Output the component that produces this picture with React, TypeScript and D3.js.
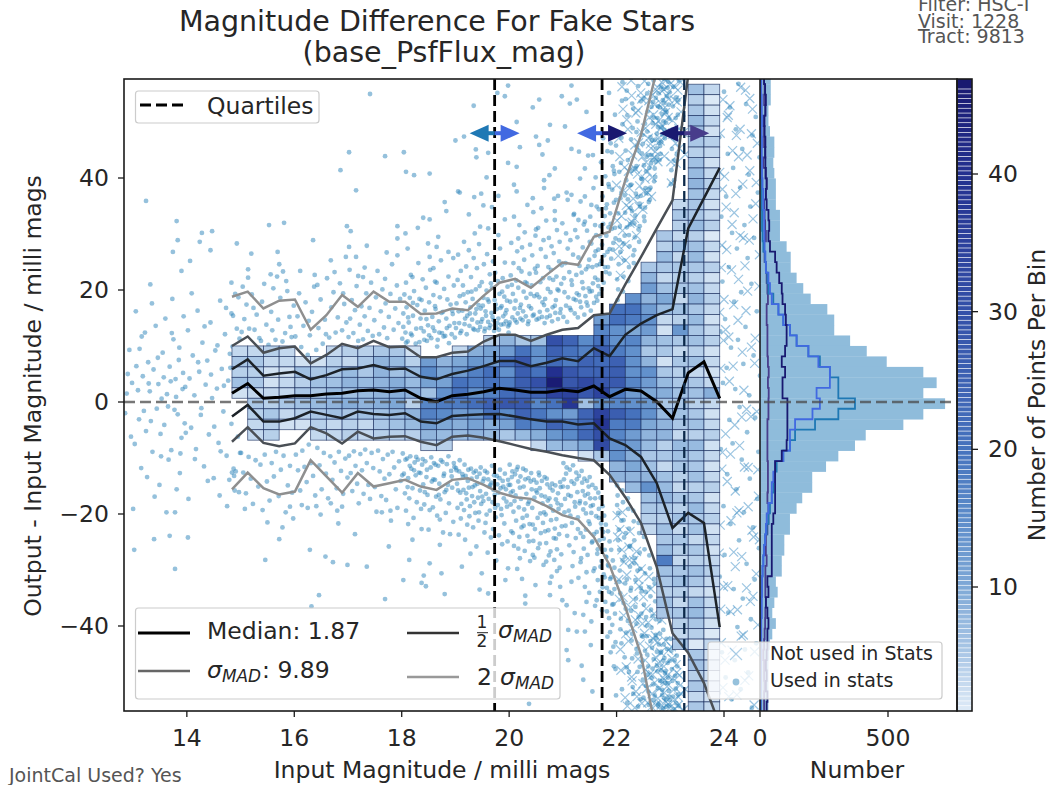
import React from "react";
import * as d3 from "d3";

// ---------- axis tick labels ----------
const xTicks = [14, 16, 18, 20, 22, 24];
const yTicks = [40, 20, 0, -20, -40];
const histTicks = [0, 500];
const cbarTicks = [10, 20, 30, 40];

// ---------- statistics lines (values at magnitude bin edges) ----------
const binStart = 14.84;
const binWidth = 0.2929;
const rowTopValue = 58.62;
const rowStep = 1.8696;
const quartiles = [19.73, 21.73, 23.26];

const lineMedian = [1.55,3.3,0.66,0.84,1.13,1.13,1.43,1.55,2.0,2.14,1.84,2.14,0.66,0.05,1.13,1.4,1.84,2.45,2.14,1.73,1.73,2.14,1.84,2.86,0.95,2.27,1.96,0.05,-2.9,5.2,7.2,0.66];
const lineHalfUp = [5.84,7.62,4.7,5.1,5.4,4.05,4.8,5.84,6.0,6.6,5.84,6.0,4.5,4.05,5.0,5.6,6.4,7.3,7.3,6.4,7,7.8,7.3,9.6,8.2,12,14,15.5,16.6,31,36.4,41.8];
const lineHalfDown = [-2.6,-0.54,-3.5,-3.5,-2.9,-1.7,-2.3,-2.9,-1.7,-2.14,-2.3,-2,-3.5,-3.8,-2.5,-2.3,-2.2,-2.14,-2.6,-3.1,-3.5,-3.5,-4,-3.8,-6.5,-7.7,-9.8,-14.5,-22.5,-19.8,-21.6,-40.2];
const lineSigmaUp = [10,11.7,8.8,9.6,9.9,6.9,8.4,10.4,9.6,10.9,9.8,9.9,8,8,8.8,9,10.8,12,12,10.9,12,12.9,13.2,15.5,15.8,21,25.9,31,36,58.4,80,85];
const lineSigmaDown = [-7.1,-4.5,-7.3,-7.9,-7.4,-4.5,-5.6,-7.4,-5.3,-6.5,-6.2,-6.1,-7.1,-7.7,-6.2,-6,-6.4,-7,-7.7,-8.4,-8.9,-9.5,-10,-10.4,-13,-17,-21.6,-29.5,-41.3,-44.8,-50.2,-57.7];
const lineTwoUp = [18.8,19.7,16.7,18.1,18.3,12.9,15.5,19.1,17,19.7,17.9,17.9,15.7,15.8,16.7,16.4,19,21.3,22,20.4,22.7,24.9,24.5,29.5,30.4,39.6,47.7,59.3];
const lineTwoDown = [-15.6,-12.6,-15.4,-16.5,-16,-10.4,-13.3,-16.2,-12.7,-15.1,-14.5,-13.9,-15.1,-15.7,-13.9,-13.6,-14.8,-16.2,-17,-17.3,-18.6,-20.2,-21,-24.1,-29.1,-36.6,-45.2,-59.5];

// ---------- 2D histogram: first row of each column, counts from that row down ----------
const heatStartRow = [26,26,26,26,27,27,26,26,26,26,26,26,27,27,26,26,25,25,25,25,25,25,25,23,22,21,18,15,12,1,1];
const heatCounts = [
  [3,5,4,6,2],
  [3,5,4,5,3,5,4,3,3],
  [4,3,2,2,3,4,5,4,4],
  [3,3,2,3,3,5,3,2],
  [2,6,4,5,6,4,2],
  [2,5,6,5,7,5,4,3],
  [3,4,5,6,7,8,6,3,3],
  [4,3,7,8,6,9,5,4,4],
  [4,5,5,7,7,8,6,3,3],
  [5,8,8,8,8,9,6,5,4],
  [5,7,6,9,9,10,7,6,4],
  [2,4,7,7,8,4,8,7,4],
  [12,15,11,6,16,17,12,8,3],
  [8,10,11,14,18,15,10,7,4],
  [3,10,12,20,20,18,12,9,7],
  [9,13,17,18,14,21,13,11,8],
  [4,11,12,21,20,17,25,20,9,7],
  [8,12,22,14,18,22,28,15,11,5],
  [5,20,28,26,26,23,27,24,18,7],
  [6,14,14,20,30,24,16,19,16,9,3],
  [30,25,22,40,46,34,20,14,24,13,7],
  [24,20,18,28,28,34,38,12,18,15,8],
  [15,17,24,24,32,28,6,24,22,23,10,2],
  [12,16,20,26,22,24,28,34,14,34,38,30,32,5],
  [20,21,14,14,18,25,26,27,18,16,26,18,16,14,14,8,8],
  [14,20,18,10,16,14,14,14,16,12,14,20,18,12,12,9,10,8,7],
  [5,8,12,8,12,14,12,8,5,8,14,12,10,13,14,10,8,7,5,6,8,14,6,5,4,3],
  [5,4,7,5,3,6,10,7,3,2,6,5,2,5,7,9,5,7,8,8,4,5,3,6,7,8,5,4,6,5,7,18,6,5,4,6,5],
  [3,5,4,3,6,3,5,4,5,3,6,4,13,5,3,5,4,5,6,5,6,5,3,7,6,5,4,3,5,4,6,3,5,4,3,5,6,4,3,5,4,3,5],
  [6,4,5,7,6,5,4,6,7,8,6,5,5,7,4,6,7,5,4,6,8,5,7,5,6,4,6,3,5,6,4,5,6,4,7,5,5,6,4,5,7,5,6,3,5,4,6,5,3,6,7,5,4,1,5,6,4,5,3,5],
  [3,1,2,3,2,4,3,2,3,4,3,2,3,4,1,3,2,4,2,3,4,3,2,3,4,2,3,2,3,9,3,2,3,4,2,3,2,3,4,2,3,4,2,3,2,3,4,3,2,3,3,2,1,3,2,3,2,3,2,3],
];

// ---------- side histograms, counts per row ----------
const histAll = [42,42,42,33,33,39,56,56,52,56,62,62,62,78,78,78,104,120,120,143,169,198,263,290,290,352,417,495,638,690,638,723,638,560,413,371,306,258,204,204,165,143,117,117,95,95,85,85,62,69,56,48,62,48,39,36,33,33,33,33,33];
const histQ1 = [3,3,4,4,4,3,4,3,4,4,7,7,7,8,8,10,13,20,23,29,33,52,72,91,117,143,189,234,273,306,306,371,306,215,137,117,91,65,59,52,46,39,33,26,20,16,13,10,8,7,5,5,4,4,3,3,3,3,3,3,3];
const histQ2 = [5,5,7,7,8,7,8,7,8,8,10,13,13,16,16,17,18,21,23,33,39,46,72,91,117,143,189,228,273,273,221,234,205,137,117,117,91,59,52,46,46,33,26,23,20,16,13,10,8,8,7,7,5,5,5,4,4,4,4,3,3];
const histQ3 = [16,20,23,21,16,18,21,20,21,23,26,23,26,33,36,33,39,59,65,75,85,88,98,101,104,104,98,85,98,88,88,107,107,107,107,104,85,59,59,59,59,59,52,46,46,46,46,46,29,33,23,29,33,29,29,26,23,26,23,29,26];
const histQ4 = [16,18,16,21,18,16,16,21,13,21,26,23,16,18,20,23,16,18,23,26,29,31,26,26,29,29,29,31,34,31,34,33,33,29,29,29,29,31,31,31,29,33,33,29,23,23,26,21,21,21,23,21,20,18,16,13,16,16,18,16,16];

// ---------- individual stars: pairs of (hundredths of a magnitude, offset) per whole magnitude ----------
const usedPts12 = [90,5,85,-2,88,1.5,93,9.3,96,-6.2,98,3.4];
const usedPts13 = [24,35.9,81,32.3,83,28.9,74,26.8,90,23.4,32,21,0,-19.1,62,-19.7,78,-19.7,39,-24.5,68,-23.9,2,-26.4,78,-29.8,5,16.2,12,9.5,18,4.6,22,12.4,28,7.1,33,-3.4,38,5.8,42,13.6,47,3.2,51,-5.7,55,8.8,60,14.9,63,1.4,68,6.3,71,-8.6,75,11.2,79,4.1,83,-2.2,86,9.7,90,-6.4,94,15.3,97,2.7,3,-7.5,9,2.1,15,-11.8,20,-1.6,26,-13.4,31,1.9,36,-8.9,44,-1.2,49,-14.8,53,0.6,58,-4.1,66,-10.3,70,3.7,73,18.4,77,-1.4,81,-15.6,85,7.5,88,-9.2,92,2.3,96,-3.8,6,6.4,11,-3.1,16,11.7,24,-5.2,29,3.3,35,17.6,40,-16.9,46,7.9,52,-9.7,57,4.4,65,-0.8,72,12.3,80,0.9,87,-12.7,93,5.2,98,-5.5];
const usedPts14 = [6,25.2,28,30.2,47,30.5,24,28.6,44,27.1,83,21.3,93,28.3,2,-24.2,2,12.8,5,4.2,8,-4.6,11,8.3,14,1.2,17,-8.4,20,16.3,23,5.4,26,-2.3,29,10.6,32,-11.5,35,3.1,38,7.4,41,-5.8,44,14.2,47,0.7,50,-13.6,53,9.2,56,2.4,59,-7.3,62,18.1,65,5.9,68,-1.7,71,12.1,74,-9.6,77,3.8,80,8.6,83,-3.9,86,15.4,89,-15.8,92,6.7,95,-6.2,98,11.3,3,-17.3,9,19.4,15,-10.2,21,7.1,27,-1.1,33,13.5,39,-14.1,45,4.9,51,-4.4,57,10.1,63,-8.8,69,2.9,75,-18.6,81,6.1,87,-11.9,93,13.1,99,-9.1,61,-16.7,73,16.8,85,9.9,91,-12.4,97,-16.1,96,18.7,88,-13.2,79,-13.9,83,15.8,84,-12.6,90,19.3];
const usedPts15 = [8,-19.1,14,23.7,14,22.2,20,26.5,53,31.6,81,32,69,26.8,72,24.6,79,23.3,56,22.8,50,-21.5,78,-22.4,72,-24.5,46,-28.2,92,-18.7,98,-20.8,2,12.5,7,14.8,11,17.4,16,13.1,21,19.2,26,12.9,30,15.6,35,11.4,40,17.9,44,21.1,48,13.8,52,10.2,57,16.1,61,20.3,65,11.1,70,14.7,74,18.6,78,10.8,83,12.3,87,19.8,91,15.2,95,11.6,99,17.2,4,20.6,24,16.8,38,10.9,59,12.8,68,22.4,85,21.6,93,13.4,1,-9.1,5,-12.6,10,-16.3,15,-9.8,19,-13.7,23,-18.2,28,-10.4,33,-15.1,37,-11.2,41,-19.3,45,-9.4,49,-14.2,54,-17.6,58,-10.9,62,-13.3,66,-8.9,71,-16.8,75,-12.1,80,-9.6,84,-19.7,88,-14.9,92,-11.4,96,-16.2];
const usedPts16 = [35,28.9,68,25.3,38,22.7,86,41.4,98,31.4,96,25.9,29,-26.4,58,-27.6,72,-28.6,99,-29.1,46,-34.5,32,-36.5,14,-18.4,41,-18.6,68,-18.1,80,-19.4,82,-21.7,2,11.7,6,15.3,9,19.4,13,9.8,17,13.6,21,17.8,25,8.4,29,11.9,33,16.1,37,20.6,41,9.3,45,13.2,49,18.3,53,10.4,57,14.7,61,22.1,65,11.5,69,16.9,73,19.6,77,12.4,81,15.1,85,21.2,89,12.8,93,17.5,97,14.2,11,23.4,27,14.5,43,20.9,59,12.1,75,23.2,91,19.4,3,-9.4,7,-12.2,11,-15.8,15,-8.7,19,-11.6,23,-14.3,27,-7.6,31,-10.9,35,-13.2,39,-16.7,43,-8.2,47,-11.3,51,-15.6,55,-9.1,59,-12.8,63,-17.2,67,-9.7,71,-13.9,75,-10.8,79,-15.4,83,-8.9,87,-12.3,91,-16.4,95,-10.1,99,-13.5,25,-18.9,49,-20.1,89,-18.7];
const usedPts17 = [2,44.6,15,37.8,41,55,69,43.9,92,31.4,5,30.5,92,29.2,2,27.7,35,27.9,72,26.7,92,26.2,15,25.9,31,24,3,23.6,19,22.5,28,22.3,69,22,13,-23.6,35,-29.4,69,-35.2,76,-25.8,63,-19.7,79,-19.4,1,11.6,4,14.9,7,18.2,10,12.3,13,16.4,16,20.7,19,10.9,22,13.8,25,17.1,28,11.2,31,15.3,34,19.4,37,12.7,40,16.8,43,21.3,46,11.8,49,14.6,52,18.7,55,23.4,58,12.1,61,16.2,64,20.1,67,13.3,70,17.6,73,11.4,76,15.2,79,19.3,82,24.6,85,12.9,88,16.7,91,20.8,94,14.1,97,18.4,2,-9.6,5,-12.7,8,-15.9,11,-8.8,14,-11.4,17,-14.6,20,-18.1,23,-9.3,26,-12.2,29,-16.4,32,-8.5,35,-10.9,38,-14.8,41,-17.3,44,-9.1,47,-11.8,50,-15.2,53,-19.6,56,-8.7,59,-12.4,62,-16.8,65,-10.2,68,-13.7,71,-17.5,74,-9.4,77,-12.9,80,-21.2,83,-8.9,86,-11.7,89,-15.6,92,-18.9,95,-10.6,98,-14.1];
const usedPts18 = [4,44.6,8,41.1,23,40.5,52,40.8,80,35.7,83,34.1,40,32.9,52,32.6,7,30.1,30,31.1,68,29.5,11,27.4,49,28.3,65,27.7,52,25.9,59,23.9,62,21.5,96,25.7,87,26.8,20,22.3,8,21.3,14,-28.2,20,-24.6,12,-21.8,37,-22.7,52,-28.8,71,-25.5,74,-30.6,3,-31.8,41,-31,37,-32.3,45,-32.9,80,-34.3,77,-23.3,90,-23.6,71,-21,52,-19.3,1,11.3,3,15.8,5,19.2,7,12.4,9,16.9,11,10.8,13,14.2,15,18.6,17,22.7,19,11.9,21,15.4,23,19.8,25,9.6,27,13.1,29,17.3,31,24.8,33,10.7,35,14.9,37,18.2,39,21.9,41,12.6,43,16.3,45,20.4,47,10.9,49,13.7,51,17.8,53,23.6,55,11.4,57,15.2,59,19.1,61,12.7,63,16.6,65,21.3,67,11.1,69,14.4,71,18.7,73,25.3,75,12.3,77,16.1,79,20.2,81,11.8,83,14.9,85,18.3,87,22.4,89,13.6,91,17.4,93,12.1,95,15.7,97,20.8,99,11.5,2,-9.2,4,-12.8,6,-16.3,8,-19.4,10,-10.1,12,-13.6,14,-17.2,16,-9.7,18,-11.9,20,-15.4,22,-20.7,24,-10.8,26,-13.1,28,-17.9,30,-10.3,32,-12.6,34,-15.8,36,-19.1,38,-11.2,40,-14.7,42,-18.3,44,-10.6,46,-13.4,48,-16.6,50,-22.8,54,-11.7,56,-14.2,58,-18.8,60,-10.9,62,-13.9,64,-16.9,66,-20.3,68,-11.4,70,-14.6,72,-17.4,76,-10.7,78,-13.2,80,-16.1,82,-19.8,84,-11.1,86,-14.8,88,-18.1,92,-12.3,94,-15.3,96,-21.4,98,-11.6,3,13.4,8,10.6,12,15.1,17,12.2,21,17.7,26,10.4,33,18.4,36,13.2,42,11.1,46,14.8,51,11.9,58,13.3,62,17.1,66,9.9,70,12.4,74,15.9,78,11.7,84,13.2,88,10.5,94,16.3,98,14.1,1,-13.1,7,-10.3,11,-15.2,15,-11.4,23,-12.2,27,-9.8,35,-12.7,39,-10.2,43,-16.1,47,-12.1,55,-9.9,59,-13.8,63,-11.2,69,-16.6,73,-10.4,79,-12.8,83,-15.7,87,-9.7,93,-13.3,97,-10.9];
const usedPts19 = [0,46.7,5,37.6,16,47.4,34,52.9,38,45.1,39,43.7,61,44.5,58,40.1,8,37.4,35,36.6,48,37.2,80,36.8,52,35.1,68,34.8,25,33.5,92,32.6,46,31.3,61,31,36,30.1,80,29.8,78,55.2,92,54.6,98,56.5,98,42.7,45,-33.5,61,-34.2,98,-29.7,1,13.2,2,17.6,4,21.8,5,26.3,7,14.1,8,18.9,10,23.4,11,12.7,13,16.3,14,20.8,16,28.6,17,13.9,19,17.8,20,24.2,22,15.4,23,19.6,25,27.1,26,13.6,28,16.9,29,22.3,31,14.7,32,18.4,34,25.7,35,12.9,37,15.8,38,20.1,40,23.9,41,14.2,43,17.3,44,28.2,46,13.4,47,16.7,49,21.4,50,14.8,52,18.6,53,24.6,55,13.1,56,16.2,58,19.9,59,26.4,61,14.3,62,17.9,64,22.8,65,13.7,67,15.9,68,20.4,70,25.1,71,14.6,73,18.2,74,23.1,76,13.3,77,16.6,79,21.6,80,14.9,82,19.3,83,27.4,85,13.8,86,17.1,88,22.1,89,15.3,91,18.8,92,24.9,94,14.4,95,16.4,97,20.6,98,13.5,1,-11.8,3,-14.6,4,-18.9,6,-23.7,7,-12.4,9,-16.2,10,-20.8,12,-29.4,13,-12.9,15,-15.7,16,-19.3,18,-24.6,19,-13.2,21,-17.4,22,-21.9,24,-12.1,25,-15.3,27,-18.6,28,-27.1,30,-13.7,31,-16.8,33,-22.4,34,-12.6,36,-14.9,37,-19.8,39,-25.8,40,-13.4,42,-17.1,43,-21.2,45,-12.8,46,-15.9,48,-18.2,49,-30.6,51,-14.2,52,-17.7,54,-23.3,55,-12.3,57,-16.4,58,-20.1,60,-26.9,61,-13.8,63,-15.1,64,-19.4,66,-24.2,67,-14.4,69,-17.9,70,-22.7,72,-13.1,73,-16.6,75,-20.6,76,-28.3,78,-14.7,79,-18.4,81,-23.8,82,-13.6,84,-15.4,85,-19.1,87,-25.4,88,-14.1,90,-17.2,91,-21.7,93,-31.8,94,-15.6,96,-18.7,97,-24.9,99,-14.8,6,16.2,9,12.3,15,19.2,18,14.9,21,12.1,27,15.8,30,19.7,33,13.1,39,16.6,42,12.8,45,20.7,48,14.3,51,17.2,54,12.6,57,15.4,60,18.3,63,13.2,66,21.2,69,15.2,72,12.7,75,17.4,78,14.1,81,12.9,84,16.8,87,19.7,90,13.9,93,15.8,96,18.1,99,12.4,2,-12.2,5,-15.8,8,-10.4,11,-18.2,14,-13.4,17,-11.2,20,-16.3,23,-14.1,26,-20.4,29,-11.9,32,-15.2,35,-17.9,38,-12.3,41,-14.6,44,-19.7,47,-11.7,50,-16.9,53,-13.7,56,-21.6,59,-12.6,62,-17.3,65,-14.8,68,-11.4,71,-15.7,74,-18.9,77,-13.2,80,-16.2,83,-12.1,86,-20.2,89,-15.1,92,-12.8,95,-17.8,98,-13.9];
const usedPts20 = [56,54,44,52.6,98,54.6,14,50,76,49.5,50,47.4,72,46.7,56,45.9,20,45.5,62,44.2,14,42,85,41.7,75,40.5,65,39.6,9,38.8,65,38.2,14,37.6,44,36.4,91,36.8,85,34.1,85,32.5,50,30.8,17,29.2,20,-27.9,44,-27.3,69,-28.5,89,-30.2,30,-34.6,30,-36,76,-32.3,76,-34.5,95,-33,37,-53.9,1,14.2,2,17.9,3,22.6,4,28.4,6,15.1,7,19.3,8,24.8,9,33.1,11,14.6,12,18.1,13,21.7,15,26.9,16,15.8,17,20.4,19,31.6,21,14.9,22,17.4,23,23.3,24,27.6,26,16.2,27,19.7,28,25.4,29,30.3,31,15.3,32,18.6,33,21.2,34,35.2,36,14.4,37,17.1,38,22.9,39,28.1,41,16.7,42,20.8,43,26.2,45,33.9,46,15.6,47,18.9,48,23.8,49,29.7,51,14.7,52,19.2,53,24.3,54,31.1,57,16.1,58,21.4,59,27.3,60,34.6,61,15.2,62,17.8,63,22.1,64,28.9,66,14.1,67,18.4,68,25.9,69,32.4,71,16.4,72,20.2,73,24.1,74,29.3,76,15.4,77,19.6,78,23.6,79,27.8,81,16.9,82,21.8,83,26.6,84,36.3,86,15.9,87,18.2,88,22.4,89,30.7,91,14.8,92,19.9,93,25.1,94,28.6,96,16.6,97,21.1,98,24.4,99,31.9,1,-11.2,2,-14.8,3,-18.3,4,-23.1,6,-12.4,7,-15.9,8,-19.6,9,-25.7,11,-12.9,12,-16.7,13,-21.2,15,-29.8,16,-11.6,17,-14.2,18,-18.8,19,-24.1,21,-13.3,22,-17.3,23,-22.4,24,-31.6,26,-11.9,27,-15.1,28,-19.2,29,-26.6,31,-12.2,32,-16.4,33,-20.3,34,-23.9,36,-13.6,37,-17.8,38,-21.8,39,-28.4,41,-12.7,42,-15.6,43,-18.9,45,-24.8,46,-13.9,47,-17.1,48,-22.7,49,-32.7,51,-14.4,52,-16.2,53,-20.7,54,-26.1,56,-13.1,57,-15.4,58,-19.9,59,-23.4,61,-14.1,62,-18.1,63,-21.6,64,-29.1,66,-13.4,67,-16.9,68,-20.1,69,-25.2,71,-14.7,72,-17.6,73,-22.9,74,-27.4,76,-15.3,77,-18.6,78,-21.1,79,-31.2,81,-15.8,82,-19.4,83,-24.3,84,-28.2,86,-14.9,87,-17.4,88,-20.9,89,-26.3,91,-16.3,92,-19.1,93,-23.6,94,-29.6,96,-15.2,97,-18.4,98,-22.2,99,-35.4,0,13.8,5,20.9,10,16.7,14,14.2,18,23.9,20,16.8,25,14.6,30,21.4,35,13.9,40,19.3,44,15.4,50,23.1,55,14.9,56,18.7,65,17.3,70,15.1,75,22.1,80,14.4,85,17.2,90,20.1,95,15.9,3,-16.2,5,-13.4,10,-17.7,14,-12.1,20,-15.3,25,-20.7,30,-13.8,35,-18.2,40,-14.2,44,-21.9,50,-15.8,55,-12.6,60,-16.7,65,-19.7,70,-13.7,75,-17.2,80,-14.6,85,-22.6,90,-18.1,95,-14.3,7,-23.4,17,-26.2,27,-22.1,37,-24.9,47,-27.8,57,-25.3,67,-23.1,77,-26.7,87,-24.4,97,-27.2];
const usedPts21 = [16,56.5,13,53.3,26,54,44,51.8,86,55.2,4,49.2,16,45.2,30,44.7,47,44,56,44.1,41,41.7,32,39.9,61,40.1,7,37.4,16,37,41,36.7,9,36.1,53,35.2,63,34.9,20,33.4,29,32.5,60,31.6,50,28.6,16,-32.1,41,-33,7,-44.3,10,-46.1,35,-47.1,38,-49.6,55,-51.7,52,-43.4,10,-40.7,26,-41,41,-41,22,-37.7,38,-38,53,-39.2,7,-36.3,63,-35.4,44,-35.7,1,15.2,3,19.6,5,24.8,6,30.1,8,14.3,10,18.7,12,23.2,14,28.9,15,16.4,17,20.9,19,26.3,21,33.6,22,15.8,24,18.2,25,22.7,27,29.4,28,15.1,30,19.1,31,24.3,33,35.8,34,16.9,36,21.4,37,27.6,39,31.7,40,15.6,42,18.9,43,23.7,45,30.6,46,17.2,48,20.3,49,25.4,51,33.1,52,16.3,54,19.8,55,24.1,57,38.2,58,17.7,60,22.2,61,26.9,62,29.8,64,18.1,65,21.8,66,27.2,67,34.4,68,19.3,69,24.6,70,31.4,71,42.8,72,20.1,73,28.1,74,36.7,75,47.1,76,21.3,77,26.2,78,33.2,79,40.3,80,23.2,81,29.7,82,35.3,83,44.8,84,24.1,85,31.2,86,38.4,87,27.3,88,33.7,89,46.2,90,25.6,91,30.9,92,37.9,93,42.1,94,28.4,95,35.6,96,40.7,97,51.3,98,29.2,99,36.1,1,-10.9,2,-13.8,4,-17.3,5,-22.1,7,-11.7,9,-15.2,11,-19.4,12,-25.6,13,-12.1,15,-16.8,17,-21.6,18,-29.3,19,-11.3,21,-14.6,23,-18.7,24,-24.3,25,-12.6,27,-16.1,28,-20.6,29,-31.4,30,-13.2,32,-17.7,33,-23.4,34,-27.9,35,-12.3,37,-15.9,38,-19.2,39,-26.2,40,-13.7,42,-18.1,43,-22.8,44,-30.4,45,-14.1,47,-16.4,48,-21.3,49,-34.1,50,-13.4,51,-17.2,53,-19.8,54,-25.1,55,-14.8,56,-18.4,58,-23.6,59,-29.7,60,-36.4,61,-15.4,62,-20.4,64,-27.1,65,-31.8,66,-16.2,67,-19.1,68,-24.7,69,-33.9,70,-17.1,71,-21.7,72,-28.4,73,-37.2,74,-18.6,75,-23.2,76,-30.8,77,-20.3,78,-26.4,79,-35.7,80,-21.9,81,-27.7,82,-33.2,83,-41.9,84,-23.1,85,-29.3,86,-38.6,87,-24.9,88,-31.6,89,-44.7,90,-26.4,91,-34.2,92,-39.8,93,-28.3,94,-36.1,95,-47.2,96,-29.6,97,-37.8,98,-42.9,99,-52.4,2,22.1,6,17.2,9,27.4,13,16.8,16,21.7,20,18.4,23,30.7,26,19.4,29,25.8,32,17.9,35,23.1,38,20.3,41,32.2,44,17.8,47,24.2,50,19.7,53,28.3,56,21.2,59,26.1,62,18.8,63,24.4,66,20.7,69,29.6,72,25.2,75,31.8,78,24.1,80,34.6,83,26.8,85,38.9,87,22.9,89,31.8,91,44.6,93,27.2,95,41.3,97,31.1,99,45.8,0,-15.1,3,-19.7,6,-12.8,8,-23.9,10,-16.6,14,-20.3,16,-14.2,20,-26.8,22,-17.9,26,-13.8,28,-22.7,31,-18.1,33,-28.6,36,-14.4,38,-24.1,41,-16.7,43,-19.9,46,-27.3,48,-15.1,50,-21.8,52,-18.6,55,-24.9,57,-30.2,60,-17.2,63,-23.2,65,-26.3,67,-20.7,70,-29.4,72,-22.6,74,-33.1,76,-24.4,78,-31.3,80,-27.6,82,-37.4,84,-29.1,86,-33.9,88,-41.1,90,-31.3,92,-36.2,94,-43.7,96,-33.4,98,-47.7];
const usedPts22 = [2,18.2,4,24.6,6,31.3,8,42.7,10,53.8,3,20.1,5,28.9,7,36.4,9,47.2,11,57.1,12,19.7,14,25.3,16,33.8,18,39.6,20,51.2,13,22.4,15,29.7,17,44.9,19,55.6,21,36.2,22,21.6,24,27.8,26,34.6,28,41.3,30,48.9,23,24.1,25,31.7,27,38.8,29,53.3,31,26.2,32,24.8,34,29.4,36,37.2,38,45.6,40,56.4,33,27.1,35,33.3,37,42.1,39,50.1,41,30.8,42,28.6,44,34.9,46,39.9,48,47.7,50,54.2,43,31.4,45,36.8,47,44.4,49,58.1,51,33.1,52,32.3,54,38.2,56,43.8,58,51.9,60,35.7,53,34.7,55,41.2,57,48.3,59,56.8,61,37.9,62,36.1,64,42.6,66,46.7,68,53.6,70,39.4,63,38.3,65,44.1,67,49.8,69,57.4,71,41.7,72,40.2,74,45.3,76,50.7,78,55.1,80,43.2,73,42.9,75,47.9,77,52.8,79,58.3,81,45.7,82,44.3,84,49.1,86,53.9,88,57.7,90,47.1,83,46.4,85,51.4,87,55.9,89,48.6,91,52.1,92,49.9,94,54.6,96,57.2,98,50.6,93,51.8,95,56.1,97,53.1,99,55.3,1,-14.9,3,-19.8,5,-26.4,7,-34.2,9,-43.1,2,-16.7,4,-22.8,6,-30.1,8,-38.7,10,-51.3,11,-15.8,13,-21.1,15,-27.6,17,-36.9,19,-47.4,12,-17.9,14,-24.2,16,-32.4,18,-41.2,20,-53.7,21,-17.2,23,-22.6,25,-29.4,27,-37.3,29,-45.8,22,-19.1,24,-25.8,26,-33.7,28,-42.6,30,-50.9,31,-19.4,33,-24.7,35,-31.8,37,-39.6,39,-48.2,32,-21.3,34,-27.9,36,-35.1,38,-44.9,40,-54.4,41,-21.6,43,-26.9,45,-33.2,47,-41.7,49,-49.6,42,-23.4,44,-29.8,46,-37.8,48,-46.3,50,-52.8,51,-24.1,53,-30.6,55,-38.4,57,-45.1,59,-51.7,52,-26.3,54,-33.9,56,-41.8,58,-48.7,60,-54.1,61,-27.4,63,-34.7,65,-40.3,67,-47.6,69,-53.2,62,-29.7,64,-37.1,66,-43.9,68,-50.4,70,-31.6,71,-32.4,73,-38.8,75,-44.6,77,-51.1,72,-35.6,74,-42.2,76,-48.1,78,-53.9,79,-36.2,81,-41.4,83,-47.9,85,-52.3,80,-39.1,82,-44.8,84,-49.9,86,-54.7,87,-40.7,89,-45.7,91,-50.2,88,-43.3,90,-48.4,92,-53.1,93,-42.3,95,-46.6,97,-51.6,94,-44.1,96,-49.2,98,-54.2,99,-46.2,1,21.9,3,33.7,5,41.1,7,26.8,9,37.4,11,49.6,13,28.3,15,36.9,17,54.1,19,31.2,21,43.2,23,29.8,25,38.7,27,46.9,29,34.1,31,52.4,33,31.9,35,41.7,37,48.2,39,36.6,41,44.9,43,35.4,45,53.7,47,39.8,49,46.1,51,42.3,53,49.7,55,37.3,57,55.1,59,44.1,61,41.8,63,47.3,65,52.7,67,43.2,69,50.8,71,46.8,73,54.3,75,43.7,77,49.1,79,46.3,81,52.6,83,56.3,85,47.8,87,50.1,89,53.4,1,-18.4,3,-24.7,5,-32.1,7,-40.6,9,-21.2,11,-28.3,13,-35.9,15,-45.6,17,-23.4,19,-31.7,21,-39.1,23,-48.2,25,-25.7,27,-33.2,29,-41.4,31,-52.1,33,-28.8,35,-36.6,37,-44.1,39,-30.1,41,-38.4,43,-47.3,45,-53.1,47,-33.8,49,-41.9,51,-36.2,53,-44.4,55,-50.7,57,-39.9,59,-47.2,61,-33.1,63,-42.7,65,-49.3,67,-38.2,69,-45.9,71,-52.4,73,-41.6,75,-47.1,77,-54.2,79,-43.3,81,-49.8,83,-44.6,85,-51.4,87,-46.2,89,-52.9,91,-48.1,93,-54.4,95,-50.2,97,-52.6,99,-53.2];
const usedPts23 = [1,38.9,3,45.2,5,52.8,2,41.4,4,48.7,6,56.3,7,39.6,9,46.9,11,54.4,8,43.1,10,50.7,12,44.2,14,51.3,16,57.4,13,47.8,15,53.9,1,-42.3,3,-47.7,5,-52.6,2,-44.4,4,-49.8,6,-54.9,7,-43.6,9,-48.9,11,-53.8,8,-46.1,10,-51.2,12,-45.3,14,-50.2,16,-54.3,13,-47.2,15,-52.2,90,-52,91,47.3,92,-31.2,93,12.6,94,-8.4,95,33.1,96,-44.7,97,21.5,98,3.4,99,-18.6];
const usedPts24 = [0,55.4,1,-27.3,2,14.8,3,-49.2,4,36.7,5,6.1,6,-12.9,7,44.3,8,-37.6,9,24.1,10,-3.2,11,52.6,12,-21.8,13,9.7,14,-53.1,15,30.2,16,-7.4,17,41.8,18,-33.4,19,17.9,20,-46.1,21,2.3,22,48.7,23,-15.6,24,27.4,25,-40.2,26,11.1,27,56.8,28,-24.7,29,-0.9,30,38.3,31,-51.3,32,19.6,33,-10.3,34,45.2,35,-35.1,36,6.8,37,-19.7,38,31.6,39,-44.2,40,13.4,41,53.2,42,-28.9,43,-5.4,44,25.7,45,-48.3,46,40.6,47,1.2,48,-13.7,49,34.9,50,-38.8,51,21.1,52,-54.6,53,47.6,54,-22.4,55,8.3,56,29.3,57,-31.7,58,-2.8,59,50.9,60,-43.1,61,16.2,62,-17.3,63,37.4,64,-8.9,65,-26.1,66,43.7,67,4.7];
const notUsedPts22 = [1,32.4,4,47.1,7,22.6,10,56.3,13,37.8,16,28.1,19,50.4,22,41.2,25,31.9,28,54.7,31,36.3,34,45.9,37,29.7,40,52.1,43,38.6,46,48.2,49,34.4,52,57.3,55,42.8,58,37.4,61,50.8,64,45.3,67,54.9,70,43.7,73,49.6,76,56.2,79,47.2,82,53.4,85,49.3,88,55.8,91,51.7,94,57.6,97,54.1,2,-24.1,5,-35.2,8,-47.9,11,-19.7,14,-28.6,17,-41.4,20,-54.3,23,-25.9,26,-36.7,29,-49.8,32,-28.3,35,-38.9,38,-52.6,41,-31.7,44,-43.2,47,-53.8,50,-34.8,53,-46.1,56,-51.2,59,-39.4,62,-48.6,65,-54.4,68,-42.3,71,-50.1,74,-45.7,77,-52.9,80,-47.4,83,-54.1,86,-49.2,89,-51.9,92,-53.6,95,-48.8,98,-54.7,0,38.7,3,26.1,6,43.8,9,33.2,12,52.3,15,41.9,18,35.1,21,48.7,24,38.2,27,57.4,30,44.1,33,32.8,36,51.6,39,40.7,42,34.9,45,55.2,48,43.8,51,37.6,54,48.9,57,41.2,60,53.8,63,46.1,66,40.1,69,51.3,72,44.7,75,55.6,78,50.2,81,46.6,84,57.1,87,52.3,90,48.1,93,54.7,96,50.8,99,56.7,5,27.8,11,30.6,17,25.3,23,34.7,29,32.1,35,41.6,41,46.3,47,54.1,53,39.8,59,47.1,65,36.7,71,53.1,77,42.9,83,48.9,89,43.9,95,47.6,1,-20.3,4,-31.7,7,-44.2,10,-26.4,13,-38.1,16,-52.8,19,-30.9,22,-42.7,25,-23.1,28,-49.1,31,-35.3,34,-54.6,37,-26.7,40,-45.9,43,-38.2,46,-29.8,49,-50.3,52,-41.3,55,-36.9,58,-53.7,61,-43.6,64,-33.4,67,-48.7,70,-37.8,73,-54.1,76,-42.9,79,-51.2,82,-44.7,85,-54.8,88,-47.2,91,-42.6,94,-50.8,97,-44.3,6,-22.8,12,-34.9,18,-47.3,24,-28.2,30,-40.4,36,-51.7,42,-32.9,48,-39.6,54,-47.8,60,-31.2,66,-52.1,72,-41.7,78,-46.6,84,-38.9,90,-49.7,96,-53.9];
const notUsedPts23 = [1,42.9,4,50.3,7,56.4,10,46.2,13,53.6,16,48.8,19,57.1,3,-45.8,6,-51.4,9,-54.8,12,-48.3,15,-52.7,18,-50.6,92,41,93,-22,94,6,95,-43,96,28,97,-9,98,54,99,-33,2,39.1,5,47.8,8,53.9,11,42.6,14,55.7,17,45.3,20,51.8,24,48.1,28,44.2,2,-43.7,5,-49.3,8,-53.1,11,-46.9,14,-54.2,17,-48.8,20,-52.1,24,-55,28,-51.3,91,-27,92,16,93,48,94,-37,95,24,96,-12,97,38,98,-51,99,11];
const notUsedPts24 = [0,18.3,2,-46.1,4,34.8,6,-14.2,8,51.2,10,3.7,12,-37.4,14,23.6,16,44.9,18,-26.8,20,-4.1,22,37.2,24,-52.3,26,14.6,28,-19.4,30,48.7,32,-41.8,34,8.9,36,29.3,38,-11.6,40,55.7,42,-33.2,44,19.8,46,-48.9,48,41.3,50,-2.6,52,-22.9,54,32.7,56,-54.1,58,11.4,60,-30.7,62,46.2,64,-16.8,66,26.3,1,40.3,3,-5.7,5,27.2,7,-32.8,9,11.6,11,52.9,13,-21.2,15,-44.3,17,6.4,19,33.8,21,-15.9,23,47.6,25,-37.1,27,21.9,29,-7.8,31,56.2,33,-27.6,35,38.9,37,2.1,39,-49.7,41,16.3,43,44.1,45,-18.7,47,28.9,49,-35.6,51,9.8,53,52.3,55,-24.1,57,-44.6,59,35.4,61,-1.7,63,-12.1,65,20.7,3,12.9,9,-52.6,15,31.7,21,-29.4,27,43.8,33,-2.7,39,24.3,45,-11.7,51,47.9,57,6.9,63,-39.8,6,50.8,12,-9.3,18,17.4,24,-19.8,30,29.7,36,-41.6,42,-1.3,48,54.2,54,-34.7,60,39.2,66,-24.6];

const usedGroups: [number, number[]][] = [[12,usedPts12],[13,usedPts13],[14,usedPts14],[15,usedPts15],[16,usedPts16],[17,usedPts17],[18,usedPts18],[19,usedPts19],[20,usedPts20],[21,usedPts21],[22,usedPts22],[23,usedPts23],[24,usedPts24]];
const notUsedGroups: [number, number[]][] = [[22,notUsedPts22],[23,notUsedPts23],[24,notUsedPts24]];

function unpack(groups: [number, number[]][]) {
  const out: [number, number][] = [];
  groups.forEach(([base, arr]) => {
    for (let i = 0; i < arr.length; i += 2) out.push([base + arr[i] / 100, arr[i + 1]]);
  });
  return out;
}
const usedStars = unpack(usedGroups);
const notUsedStars = unpack(notUsedGroups);

// ---------- scales ----------
const x = d3.scaleLinear().domain([12.83, 24.67]).range([124, 760]);
const y = d3.scaleLinear().domain([57.68, -55.18]).range([79, 711]);
const xh = d3.scaleLinear().domain([0, 500]).range([760, 888]);
const yc = d3.scaleLinear().domain([10, 40]).range([587, 174]);
const colour = d3
  .scaleLinear<string>()
  .domain([1, 5, 10, 15, 20, 30, 40, 47])
  .range(["#dce9f6", "#aac7e6", "#7ea8d6", "#5b8bc9", "#4672bd", "#3450a8", "#23308f", "#191970"])
  .clamp(true);

const FONT = "DejaVu Sans";
const INK = "#262626";
const rowTop = (r: number) => y(rowTopValue - rowStep * r);
const edgeMag = (i: number) => binStart + binWidth * i;
const statLine = d3
  .line<number>()
  .x((_, i) => x(edgeMag(i)))
  .y((v) => y(v));

function stepPath(counts: number[]) {
  let d = `M${xh(0)},${rowTop(0)}`;
  counts.forEach((c, r) => {
    d += `L${xh(c)},${rowTop(r)}L${xh(c)},${rowTop(r + 1)}`;
  });
  return d;
}

const cbarLevels = d3.range(1, 46.6, 0.35);

function Sigma({ px, py, size = 23.5 }: { px: number; py: number; size?: number }) {
  return (
    <text x={px} y={py} fontFamily={FONT} fontSize={size} fill={INK} fontStyle="italic">
      σ
      <tspan fontSize={size * 0.72} dy={4}>MAD</tspan>
    </text>
  );
}

function Arrow({ at, left, right }: { at: number; left: string; right: string }) {
  const c = x(at);
  const py = y(48);
  const half = 25;
  const headL = 19;
  return (
    <g>
      <rect x={c - half + headL - 1} y={py - 2} width={half - headL + 1} height={4} fill={left} />
      <rect x={c} y={py - 2} width={half - headL + 1} height={4} fill={right} />
      <path d={`M${c - half},${py}L${c - half + headL},${py - 8.5}L${c - half + headL},${py + 8.5}Z`} fill={left} />
      <path d={`M${c + half},${py}L${c + half - headL},${py - 8.5}L${c + half - headL},${py + 8.5}Z`} fill={right} />
    </g>
  );
}

export default function App() {
  const plotL = 124, plotR = 760, histR = 957, cbarR = 972, top = 79, bot = 711;
  const tickText = { fontFamily: FONT, fontSize: 23.5, fill: INK };
  return (
    <svg width={1050} height={785} style={{ position: "absolute", left: 0, top: 0, background: "#fff" }}>
      <defs>
        <clipPath id="mainClip"><rect x={plotL} y={top} width={plotR - plotL} height={bot - top} /></clipPath>
        <clipPath id="histClip"><rect x={plotR} y={top} width={histR - plotR} height={bot - top} /></clipPath>
      </defs>

      {/* header text */}
      <text x={437} y={31} textAnchor="middle" fontFamily={FONT} fontSize={28.5} fill={INK}>Magnitude Difference For Fake Stars</text>
      <text x={444} y={62} textAnchor="middle" fontFamily={FONT} fontSize={28.5} fill={INK}>(base_PsfFlux_mag)</text>
      <g fontFamily={FONT} fontSize={19} fill="#555">
        <text x={918} y={11}>Filter: HSC-I</text>
        <text x={918} y={28}>Visit: 1228</text>
        <text x={918} y={43}>Tract: 9813</text>
        <text x={9} y={782}>JointCal Used? Yes</text>
      </g>

      {/* stars */}
      <g clipPath="url(#mainClip)">
        {notUsedStars.map(([m, v], i) => (
          <path key={`n${i}`} d={`M${x(m) - 4.5},${y(v) - 4.5}l9,9m-9,0l9,-9`} stroke="#4a95c9" strokeOpacity={0.55} strokeWidth={1.2} fill="none" />
        ))}
        {usedStars.map(([m, v], i) => (
          <circle key={`u${i}`} cx={x(m)} cy={y(v)} r={2.4} fill="#2b83ba" fillOpacity={0.5} />
        ))}

        {/* 2D histogram */}
        {heatCounts.map((col, c) =>
          col.map((n, k) => {
            const r = heatStartRow[c] + k;
            const y0 = rowTop(r);
            return (
              <rect key={`h${c}-${k}`} x={x(edgeMag(c))} y={y0} width={x(edgeMag(c + 1)) - x(edgeMag(c))} height={rowTop(r + 1) - y0}
                fill={colour(n)} stroke="#14285a" strokeOpacity={0.75} strokeWidth={0.8} />
            );
          })
        )}

        {/* statistics lines */}
        <path d={statLine(lineTwoUp)!} fill="none" stroke="#8f8f8f" strokeWidth={2.5} />
        <path d={statLine(lineTwoDown)!} fill="none" stroke="#8f8f8f" strokeWidth={2.5} />
        <path d={statLine(lineSigmaUp)!} fill="none" stroke="#4a4f55" strokeWidth={2.5} />
        <path d={statLine(lineSigmaDown)!} fill="none" stroke="#4a4f55" strokeWidth={2.5} />
        <path d={statLine(lineHalfUp)!} fill="none" stroke="#1c2228" strokeWidth={2.5} />
        <path d={statLine(lineHalfDown)!} fill="none" stroke="#1c2228" strokeWidth={2.5} />
        <path d={statLine(lineMedian)!} fill="none" stroke="#000" strokeWidth={3} />

        {/* quartiles */}
        {quartiles.map((q, i) => (
          <line key={q} x1={x(q)} x2={x(q)} y1={top} y2={bot} stroke={i === 2 ? "#0d2a4a" : "#000"} strokeWidth={i === 2 ? 2.3 : 2.8} strokeDasharray="11 5" />
        ))}
        <Arrow at={quartiles[0]} left="#1f78b4" right="#4169e1" />
        <Arrow at={quartiles[1]} left="#4169e1" right="#191970" />
        <Arrow at={quartiles[2]} left="#191970" right="#483d8b" />
      </g>

      {/* side histograms */}
      <g clipPath="url(#histClip)">
        {histAll.map((c, r) => (
          <rect key={r} x={xh(0)} y={rowTop(r)} width={xh(c) - xh(0)} height={rowTop(r + 1) - rowTop(r) + 0.3} fill="#8fbcdb" />
        ))}
        <path d={stepPath(histQ4)} fill="none" stroke="#483d8b" strokeWidth={1.8} />
        <path d={stepPath(histQ1)} fill="none" stroke="#1f78b4" strokeWidth={1.8} />
        <path d={stepPath(histQ2)} fill="none" stroke="#4169e1" strokeWidth={1.8} />
        <path d={stepPath(histQ3)} fill="none" stroke="#191970" strokeWidth={1.8} />
      </g>

      {/* zero line */}
      <line x1={plotL} x2={histR} y1={y(0)} y2={y(0)} stroke="#4a4a4a" strokeOpacity={0.75} strokeWidth={2.5} strokeDasharray="11 5" />

      {/* colour bar */}
      {cbarLevels.map((v) => {
        const y0 = yc(v + 0.35);
        const h = yc(v) - y0;
        return <rect key={v} x={histR} y={y0} width={cbarR - histR} height={h - 0.7} fill={colour(v)} />;
      })}
      <rect x={histR} y={top} width={cbarR - histR} height={9} fill="#191970" />
      <rect x={histR} y={top} width={cbarR - histR} height={bot - top} fill="none" stroke="#1a1a1a" strokeWidth={1.6} />

      {/* frame */}
      <rect x={plotL} y={top} width={histR - plotL} height={bot - top} fill="none" stroke="#1a1a1a" strokeWidth={1.6} />
      <line x1={plotR} x2={plotR} y1={top} y2={bot} stroke="#1a1a1a" strokeWidth={1.6} />

      {/* axes */}
      {xTicks.map((t) => (
        <g key={t}>
          <line x1={x(t)} x2={x(t)} y1={bot} y2={bot + 6} stroke="#1a1a1a" strokeWidth={1.3} />
          <text x={x(t)} y={746} textAnchor="middle" {...tickText}>{t}</text>
        </g>
      ))}
      {histTicks.map((t) => (
        <g key={t}>
          <line x1={xh(t)} x2={xh(t)} y1={bot} y2={bot + 6} stroke="#1a1a1a" strokeWidth={1.3} />
          <text x={xh(t)} y={746} textAnchor="middle" {...tickText}>{t}</text>
        </g>
      ))}
      {yTicks.map((t) => (
        <g key={t}>
          <line x1={plotL - 6} x2={plotL} y1={y(t)} y2={y(t)} stroke="#1a1a1a" strokeWidth={1.3} />
          <text x={109} y={y(t) + 8} textAnchor="end" {...tickText}>{t < 0 ? `\u2212${-t}` : t}</text>
        </g>
      ))}
      {cbarTicks.map((t) => (
        <g key={t}>
          <line x1={cbarR} x2={cbarR + 6} y1={yc(t)} y2={yc(t)} stroke="#1a1a1a" strokeWidth={1.3} />
          <text x={988} y={yc(t) + 8} {...tickText}>{t}</text>
        </g>
      ))}
      <text x={442} y={778} textAnchor="middle" {...tickText}>Input Magnitude / milli mags</text>
      <text x={857} y={778} textAnchor="middle" {...tickText}>Number</text>
      <text transform="translate(41,396) rotate(-90)" textAnchor="middle" {...tickText}>Output - Input Magnitude / milli mags</text>
      <text transform="translate(1045,395) rotate(-90)" textAnchor="middle" {...tickText}>Number of Points Per Bin</text>

      {/* legends */}
      <g>
        <rect x={135.5} y={91} width={183.5} height={32} rx={3} fill="#fff" fillOpacity={0.8} stroke="#ccc" strokeWidth={1.2} />
        <line x1={140} x2={188} y1={105} y2={105} stroke="#000" strokeWidth={2.8} strokeDasharray="11 5" />
        <text x={207} y={114} {...tickText}>Quartiles</text>
      </g>
      <g>
        <rect x={135.5} y={608} width={424.5} height={91} rx={3} fill="#fff" fillOpacity={0.8} stroke="#ccc" strokeWidth={1.2} />
        <line x1={138} x2={190} y1={633} y2={633} stroke="#000" strokeWidth={3} />
        <text x={207} y={639} {...tickText}>Median: 1.87</text>
        <line x1={138} x2={190} y1={671} y2={671} stroke="#666" strokeWidth={2.5} />
        <Sigma px={207} py={678} />
        <text x={262} y={678} {...tickText}>: 9.89</text>
        <line x1={407} x2={459} y1={633} y2={633} stroke="#333" strokeWidth={2.5} />
        <text x={482} y={628} textAnchor="middle" fontFamily={FONT} fontSize={17} fill={INK}>1</text>
        <line x1={477} x2={488} y1={632.7} y2={632.7} stroke={INK} strokeWidth={1} />
        <text x={482} y={647} textAnchor="middle" fontFamily={FONT} fontSize={17} fill={INK}>2</text>
        <Sigma px={498} py={638} />
        <line x1={407} x2={459} y1={677} y2={677} stroke="#999" strokeWidth={2.5} />
        <text x={477} y={685} {...tickText}>2</text>
        <Sigma px={500} py={685} />
      </g>
      <g>
        <rect x={708} y={642} width={234} height={57} rx={3} fill="#fff" fillOpacity={0.8} stroke="#ccc" strokeWidth={1.2} />
        <path d="M730,648l12,12m-12,0l12,-12" stroke="#4a95c9" strokeOpacity={0.45} strokeWidth={1.2} fill="none" />
        <circle cx={736} cy={682} r={3.4} fill="#2b83ba" fillOpacity={0.5} />
        <text x={770} y={660} fontFamily={FONT} fontSize={19} fill={INK}>Not used in Stats</text>
        <text x={770} y={687} fontFamily={FONT} fontSize={19} fill={INK}>Used in stats</text>
      </g>
    </svg>
  );
}
